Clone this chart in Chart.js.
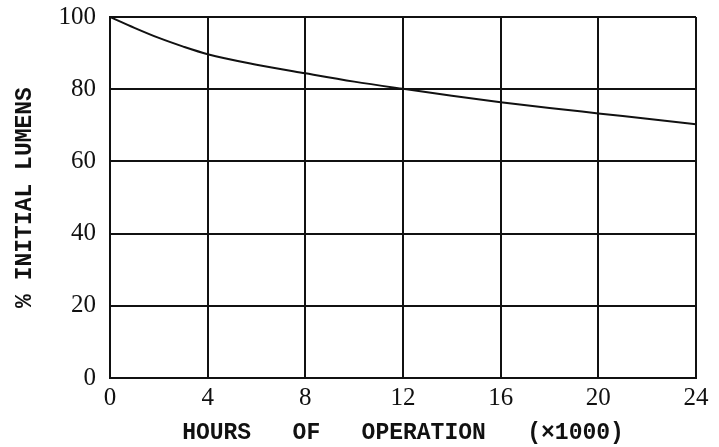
<!DOCTYPE html>
<html>
<head>
<meta charset="utf-8">
<script src="https://cdn.jsdelivr.net/npm/chart.js@4/dist/chart.umd.min.js"></script>
<style>
  html, body { margin: 0; padding: 0; background: #fff; }
  #wrap { width: 719px; height: 447px; }
</style>
</head>
<body>
<div id="wrap"><canvas id="lumenChart"></canvas></div>
<script>
// --- Data ---
const hours = [0, 1, 2, 3, 4, 6, 8, 10, 12, 14, 16, 18, 20, 22, 24];   // x1000 h
const lumens = [100, 97, 94.2, 91.8, 89.7, 86.8, 84.4, 82.1, 80.1, 78.2, 76.4, 74.8, 73.3, 71.8, 70.3];
const xTicks = [0, 4, 8, 12, 16, 20, 24];
const yTicks = [0, 20, 40, 60, 80, 100];

const ink = '#111';
const titleFont = { family: '"Liberation Mono", monospace', size: 23, weight: 'bold' };
const tickFont = { family: '"Liberation Serif", serif', size: 25 };

const points = hours.map((h, i) => ({ x: h, y: lumens[i] }));

const ctx = document.getElementById('lumenChart').getContext('2d');
new Chart(ctx, {
    type: 'line',
    data: {
        datasets: [{
            data: points,
            borderColor: ink,
            borderWidth: 2,
            pointRadius: 0,
            fill: false,
            cubicInterpolationMode: 'monotone'
        }]
    },
    options: {
        responsive: true,
        maintainAspectRatio: false,
        animation: false,
        layout: { padding: { left: 11, right: 23, top: 17, bottom: 0 } },
        plugins: {
            legend: { display: false },
            tooltip: { enabled: false }
        },
        scales: {
            x: {
                type: 'linear',
                min: 0,
                max: 24,
                afterBuildTicks: (s) => { s.ticks = xTicks.map(v => ({ value: v })); },
                afterFit: (s) => { s.height = 447 - 378; s.paddingLeft = 0; s.paddingRight = 0; },
                grid: { color: ink, lineWidth: 2, drawTicks: false },
                border: { color: ink, width: 2 },
                ticks: { color: ink, font: tickFont, padding: 5, maxRotation: 0 },
                title: {
                    display: true,
                    text: 'HOURS   OF   OPERATION   (\u00d71000)',
                    color: ink,
                    font: titleFont,
                    padding: { top: 0, bottom: 0 }
                }
            },
            y: {
                min: 0,
                max: 100,
                afterBuildTicks: (s) => { s.ticks = yTicks.map(v => ({ value: v })); },
                afterFit: (s) => { s.width = 110 - 11; s.paddingTop = 0; s.paddingBottom = 0; },
                grid: { color: ink, lineWidth: 2, drawTicks: false },
                border: { color: ink, width: 2 },
                ticks: { color: ink, font: tickFont, padding: 14 },
                title: {
                    display: true,
                    text: '% INITIAL LUMENS',
                    color: ink,
                    font: titleFont,
                    padding: 0
                }
            }
        }
    }
});
</script>
</body>
</html>
